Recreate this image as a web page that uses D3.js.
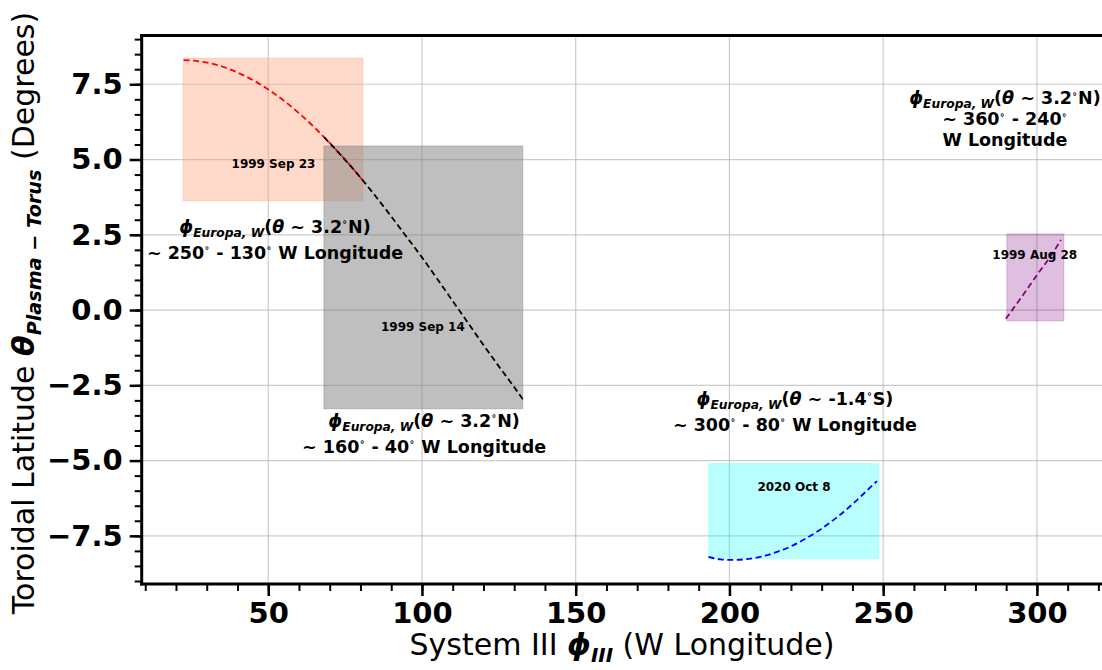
<!DOCTYPE html>
<html>
<head>
<meta charset="utf-8">
<script src="https://cdn.jsdelivr.net/npm/d3@7"></script>
<style>
  body { margin: 0; background: #fff; }
  svg { display: block; font-family: "DejaVu Sans", sans-serif; }
</style>
</head>
<body>
<svg id="chart" width="1102" height="670"></svg>
<script>
// passes: date, System III longitude span, latitude span of the shaded box
const passNames = ["1999 Sep 23", "1999 Sep 14", "2020 Oct 8", "1999 Aug 28"];
const boxLon = [[22.3, 80.8], [68.1, 132.8], [193.3, 248.6], [290.2, 308.8]];
const boxLat = [[3.63, 8.37], [-3.28, 5.45], [-8.25, -5.1], [-0.36, 2.53]];

// Europa track across the torus for each pass
const sep23Lon = [22.5, 25, 30, 35, 40, 45, 50, 55, 60, 65, 70, 75, 80.8];
const sep23Lat = [8.30, 8.29, 8.22, 8.09, 7.89, 7.64, 7.33, 6.96, 6.54, 6.07, 5.55, 5.00, 4.30];
const sep14Lon = [68.2, 75, 80, 85, 90, 95, 100, 105, 110, 115, 120, 125, 130, 133];
const sep14Lat = [5.74, 4.99, 4.40, 3.77, 3.11, 2.43, 1.75, 1.03, 0.30, -0.43, -1.16, -1.87, -2.56, -2.99];
const oct8Lon = [193.2, 197, 201, 205, 210, 215, 220, 225, 230, 235, 240, 245, 248];
const oct8Lat = [-8.20, -8.28, -8.30, -8.28, -8.20, -8.05, -7.85, -7.58, -7.26, -6.88, -6.45, -5.97, -5.68];
const aug28Lon = [289.9, 295, 300, 305, 307.8];
const aug28Lat = [-0.29, 0.43, 1.16, 1.87, 2.33];

// annotation text
const noteLat = ["3.2", "3.2", "-1.4", "3.2"];
const noteHemi = ["N", "N", "S", "N"];
const noteLon = [[250, 130], [160, 40], [300, 80], [360, 240]];
const noteAt = [[52.2, 2.57], [100.7, -3.87], [221.3, -3.14], [289.6, 6.84]];
const dateAt = [[51.7, 4.72], [100.3, -0.70], [221, -6.0], [299.3, 1.70]];

const xMajor = [50, 100, 150, 200, 250, 300];
const xMinor = d3.range(10, 321, 10);
const yMajor = [-7.5, -5, -2.5, 0, 2.5, 5, 7.5];
const yMinor = d3.range(-9, 9.01, 0.5);

const tracks = [
  {lon: sep23Lon, lat: sep23Lat, color: "#ff0000"},
  {lon: sep14Lon, lat: sep14Lat, color: "#000000"},
  {lon: oct8Lon, lat: oct8Lat, color: "#0000ff"},
  {lon: aug28Lon, lat: aug28Lat, color: "#800080"}
];
const boxFill = ["#ffa07a", "#808080", "#00ffff", "#800080"];
const boxAlpha = [0.4, 0.5, 0.27, 0.25];

const svg = d3.select("#chart");
const pL = 141.7, pR = 1115, pT = 35.5, pB = 584;

const x = d3.scaleLinear().domain([8.85, 325.4]).range([pL, pR]);
const y = d3.scaleLinear().domain([-9.1, 9.12]).range([pB, pT]);

// grid
const grid = svg.append("g").attr("stroke", "#b0b0b0").attr("stroke-opacity", 0.65).attr("stroke-width", 1.2);
grid.selectAll(".gx").data(xMajor).join("line")
    .attr("x1", d => x(d)).attr("x2", d => x(d)).attr("y1", pT).attr("y2", pB);
grid.selectAll(".gy").data(yMajor).join("line")
    .attr("y1", d => y(d)).attr("y2", d => y(d)).attr("x1", pL).attr("x2", pR);

// shaded boxes
svg.append("g").selectAll("rect").data(passNames).join("rect")
    .attr("x", (d, i) => x(boxLon[i][0]))
    .attr("width", (d, i) => x(boxLon[i][1]) - x(boxLon[i][0]))
    .attr("y", (d, i) => y(boxLat[i][1]))
    .attr("height", (d, i) => y(boxLat[i][0]) - y(boxLat[i][1]))
    .attr("fill", (d, i) => boxFill[i])
    .attr("fill-opacity", (d, i) => boxAlpha[i])
    .attr("stroke", (d, i) => boxFill[i])
    .attr("stroke-opacity", (d, i) => boxAlpha[i] * 0.8)
    .attr("stroke-width", 1);

// dashed tracks
const line = d3.line().x(d => x(d[0])).y(d => y(d[1])).curve(d3.curveMonotoneX);
tracks.forEach(t => {
  svg.append("path")
      .datum(d3.zip(t.lon, t.lat))
      .attr("fill", "none")
      .attr("stroke", t.color)
      .attr("stroke-width", 1.8)
      .attr("stroke-dasharray", "6,3.5")
      .attr("d", line);
});

// math-ish text helper: parts of {t, it, sub, sup}
function addMath(text, parts, size, subScale) {
  let off = 0;
  parts.forEach(p => {
    const s = p.sub ? size * 0.24 : p.sup ? -size * 0.42 : 0;
    const ts = text.append("tspan").text(p.t);
    if (p.it) ts.attr("font-style", "italic");
    if (p.bold) ts.attr("font-weight", "bold");
    if (p.sub || p.sup) ts.attr("font-size", size * (p.sup ? 0.55 : (subScale || 0.7)));
    if (s !== off) ts.attr("dy", s - off);
    off = s;
  });
}

const fs = 17.5;
noteAt.forEach((p, i) => {
  const cx = x(p[0]), by = y(p[1]);
  const g = svg.append("g").attr("font-weight", "bold").attr("font-size", fs)
      .attr("text-anchor", "middle").style("white-space", "pre");
  addMath(g.append("text").attr("x", cx).attr("y", by), [
    {t: "ϕ", it: 1}, {t: "Europa, W", it: 1, sub: 1}, {t: "("}, {t: "θ", it: 1},
    {t: " ∼  " + noteLat[i]}, {t: "∘", sup: 1}, {t: noteHemi[i] + ")"}
  ], fs);
  const lon = noteLon[i];
  if (i === 3) {
    addMath(g.append("text").attr("x", cx).attr("y", by + 21), [
      {t: "∼  " + lon[0]}, {t: "∘", sup: 1}, {t: " - " + lon[1]}, {t: "∘", sup: 1}
    ], fs);
    g.append("text").attr("x", cx).attr("y", by + 42).text("W Longitude");
  } else {
    addMath(g.append("text").attr("x", cx).attr("y", by + 26), [
      {t: "∼  " + lon[0]}, {t: "∘", sup: 1}, {t: " - " + lon[1]}, {t: "∘", sup: 1}, {t: " W Longitude"}
    ], fs);
  }
});

svg.append("g").selectAll("text").data(passNames).join("text")
    .attr("x", (d, i) => x(dateAt[i][0]))
    .attr("y", (d, i) => y(dateAt[i][1]))
    .attr("text-anchor", "middle")
    .attr("font-size", 12).attr("font-weight", "bold")
    .text(d => d);

// axes
const tickFont = 29;
function styleAxis(g, w) {
  g.select(".domain").remove();
  g.selectAll(".tick line").attr("stroke", "#000").attr("stroke-width", w);
  g.selectAll(".tick text").attr("font-size", tickFont).attr("font-weight", "bold")
      .attr("font-family", "DejaVu Sans").attr("fill", "#000");
}
svg.append("g").attr("transform", `translate(0,${pB})`)
    .call(d3.axisBottom(x).tickValues(xMinor).tickSize(7).tickFormat(""))
    .call(g => styleAxis(g, 2));
svg.append("g").attr("transform", `translate(0,${pB})`)
    .call(d3.axisBottom(x).tickValues(xMajor).tickSize(12).tickPadding(6).tickFormat(d3.format("d")))
    .call(g => styleAxis(g, 2.5));
svg.append("g").attr("transform", `translate(${pL},0)`)
    .call(d3.axisLeft(y).tickValues(yMinor).tickSize(7).tickFormat(""))
    .call(g => styleAxis(g, 2));
svg.append("g").attr("transform", `translate(${pL},0)`)
    .call(d3.axisLeft(y).tickValues(yMajor).tickSize(12).tickPadding(7).tickFormat(d3.format(".1f")))
    .call(g => styleAxis(g, 2.5));

// spines
const sp = svg.append("g").attr("stroke", "#000").attr("stroke-width", 3).attr("stroke-linecap", "square");
sp.append("line").attr("x1", pL).attr("x2", pL).attr("y1", pT).attr("y2", pB);
sp.append("line").attr("x1", pL).attr("x2", pR).attr("y1", pB).attr("y2", pB);
sp.append("line").attr("x1", pL).attr("x2", pR).attr("y1", pT).attr("y2", pT);

// axis titles
const lab = 30;
const xt = svg.append("text").attr("x", 622).attr("y", 655).attr("text-anchor", "middle")
    .attr("font-size", lab).style("white-space", "pre");
addMath(xt, [{t: "System III "}, {t: "ϕ", it: 1, bold: 1}, {t: "III", it: 1, bold: 1, sub: 1}, {t: " (W Longitude)"}], lab, 0.66);

const yt = svg.append("text").attr("transform", "translate(34,313) rotate(-90)")
    .attr("text-anchor", "middle").attr("font-size", lab).style("white-space", "pre");
addMath(yt, [{t: "Toroidal Latitude "}, {t: "θ", it: 1, bold: 1}, {t: "Plasma − Torus", it: 1, bold: 1, sub: 1}, {t: " (Degrees)"}], lab, 0.64);
</script>
</body>
</html>
